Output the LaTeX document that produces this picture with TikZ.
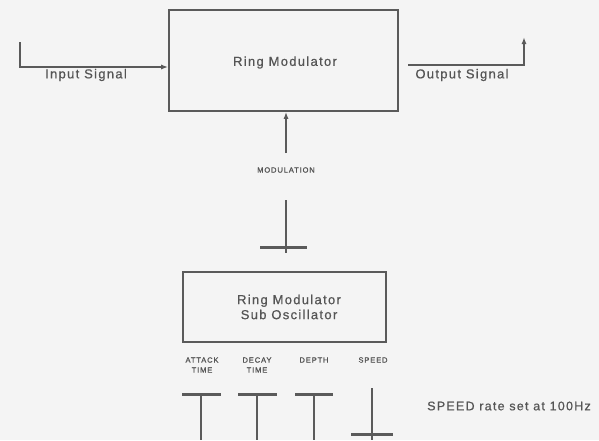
\documentclass[tikz,border=0pt]{standalone}
\usepackage{fontspec}
\setmainfont{Liberation Sans}[LetterSpace=10]
\newfontfamily\smallfont{Liberation Sans}[LetterSpace=12,FakeBold=1.2]
\newfontfamily\lblfont{Liberation Sans}[LetterSpace=10,FakeBold=0.6]
\usetikzlibrary{arrows.meta,calc}
\definecolor{bgc}{RGB}{244,244,244}
\definecolor{linec}{RGB}{90,90,90}
\definecolor{textc}{RGB}{85,85,85}
\tikzset{
  box/.style={draw=linec,line width=1.6pt,minimum width=#1,inner sep=0pt},
  wire/.style={draw=linec,line width=1.4pt},
  arr/.style={wire,-{Latex[length=7pt,width=5pt]}},
  bar/.style={draw=linec,line width=3pt},
  lbl/.style={text=textc,font=\lblfont\fontsize{13}{15}\selectfont,inner sep=0pt},
  small/.style={text=textc,font=\smallfont\fontsize{7.5}{10}\selectfont,inner sep=0pt,align=center},
}
\begin{document}
\begin{tikzpicture}[x=1pt,y=-1pt]
\fill[bgc] (0,0) rectangle (599,440);
\useasboundingbox (0,0) rectangle (599,440);

% main ring modulator
\node[box=229pt,minimum height=101pt] (main) at (283.5,60.5) {};
\node[lbl] (mainTxt) at (285,62.5) {Ring Modulator};

% input
\coordinate (inStart) at (20,42);
\draw[arr] (inStart) |- ([yshift=-6.5pt]main.west);
\node[lbl] (inLbl) at (86,75) {Input Signal};

% output
\coordinate (outStart) at (408,65);
\coordinate (outEnd) at (524,37);
\draw[arr] (outStart) -| (outEnd);
\node[lbl] (outLbl) at (462,75) {Output Signal};

% modulation
\node[small] (mod) at (286,170) {MODULATION};
\coordinate (modTop) at (286,153);
\draw[arr] (modTop) -- (modTop |- main.south);

% modulation control
\coordinate (mA) at (286,200);
\coordinate (mB) at (286,253);
\draw[wire] (mA) -- (mB);
\draw[bar] (260,247) -- (307,247);

% sub oscillator
\node[box=203pt,minimum height=70pt,lbl,align=center] (sub) at (284.5,307)
  {\hspace*{9pt}Ring Modulator\\\hspace*{9pt}Sub Oscillator};

% control labels
\node[small] (att) at (202,365) {ATTACK\\TIME};
\node[small] (dec) at (257,365) {DECAY\\TIME};
\node[small] (dep) at (314,360) {DEPTH};
\node[small] (spd) at (373,360) {SPEED};

% faders
\draw[bar] (182,394) -- (221,394);
\draw[wire] (201,394) -- (201,440);
\draw[bar] (238,394) -- (277,394);
\draw[wire] (257,394) -- (257,440);
\draw[bar] (295,394) -- (333,394);
\draw[wire] (314,394) -- (314,440);
\draw[wire] (372,388) -- (372,440);
\draw[bar] (351,434) -- (393,434);

\node[lbl,font=\lblfont\fontsize{12.5}{14}\selectfont] (note) at (509,406) {SPEED rate set at 100Hz};
\end{tikzpicture}
\end{document}
